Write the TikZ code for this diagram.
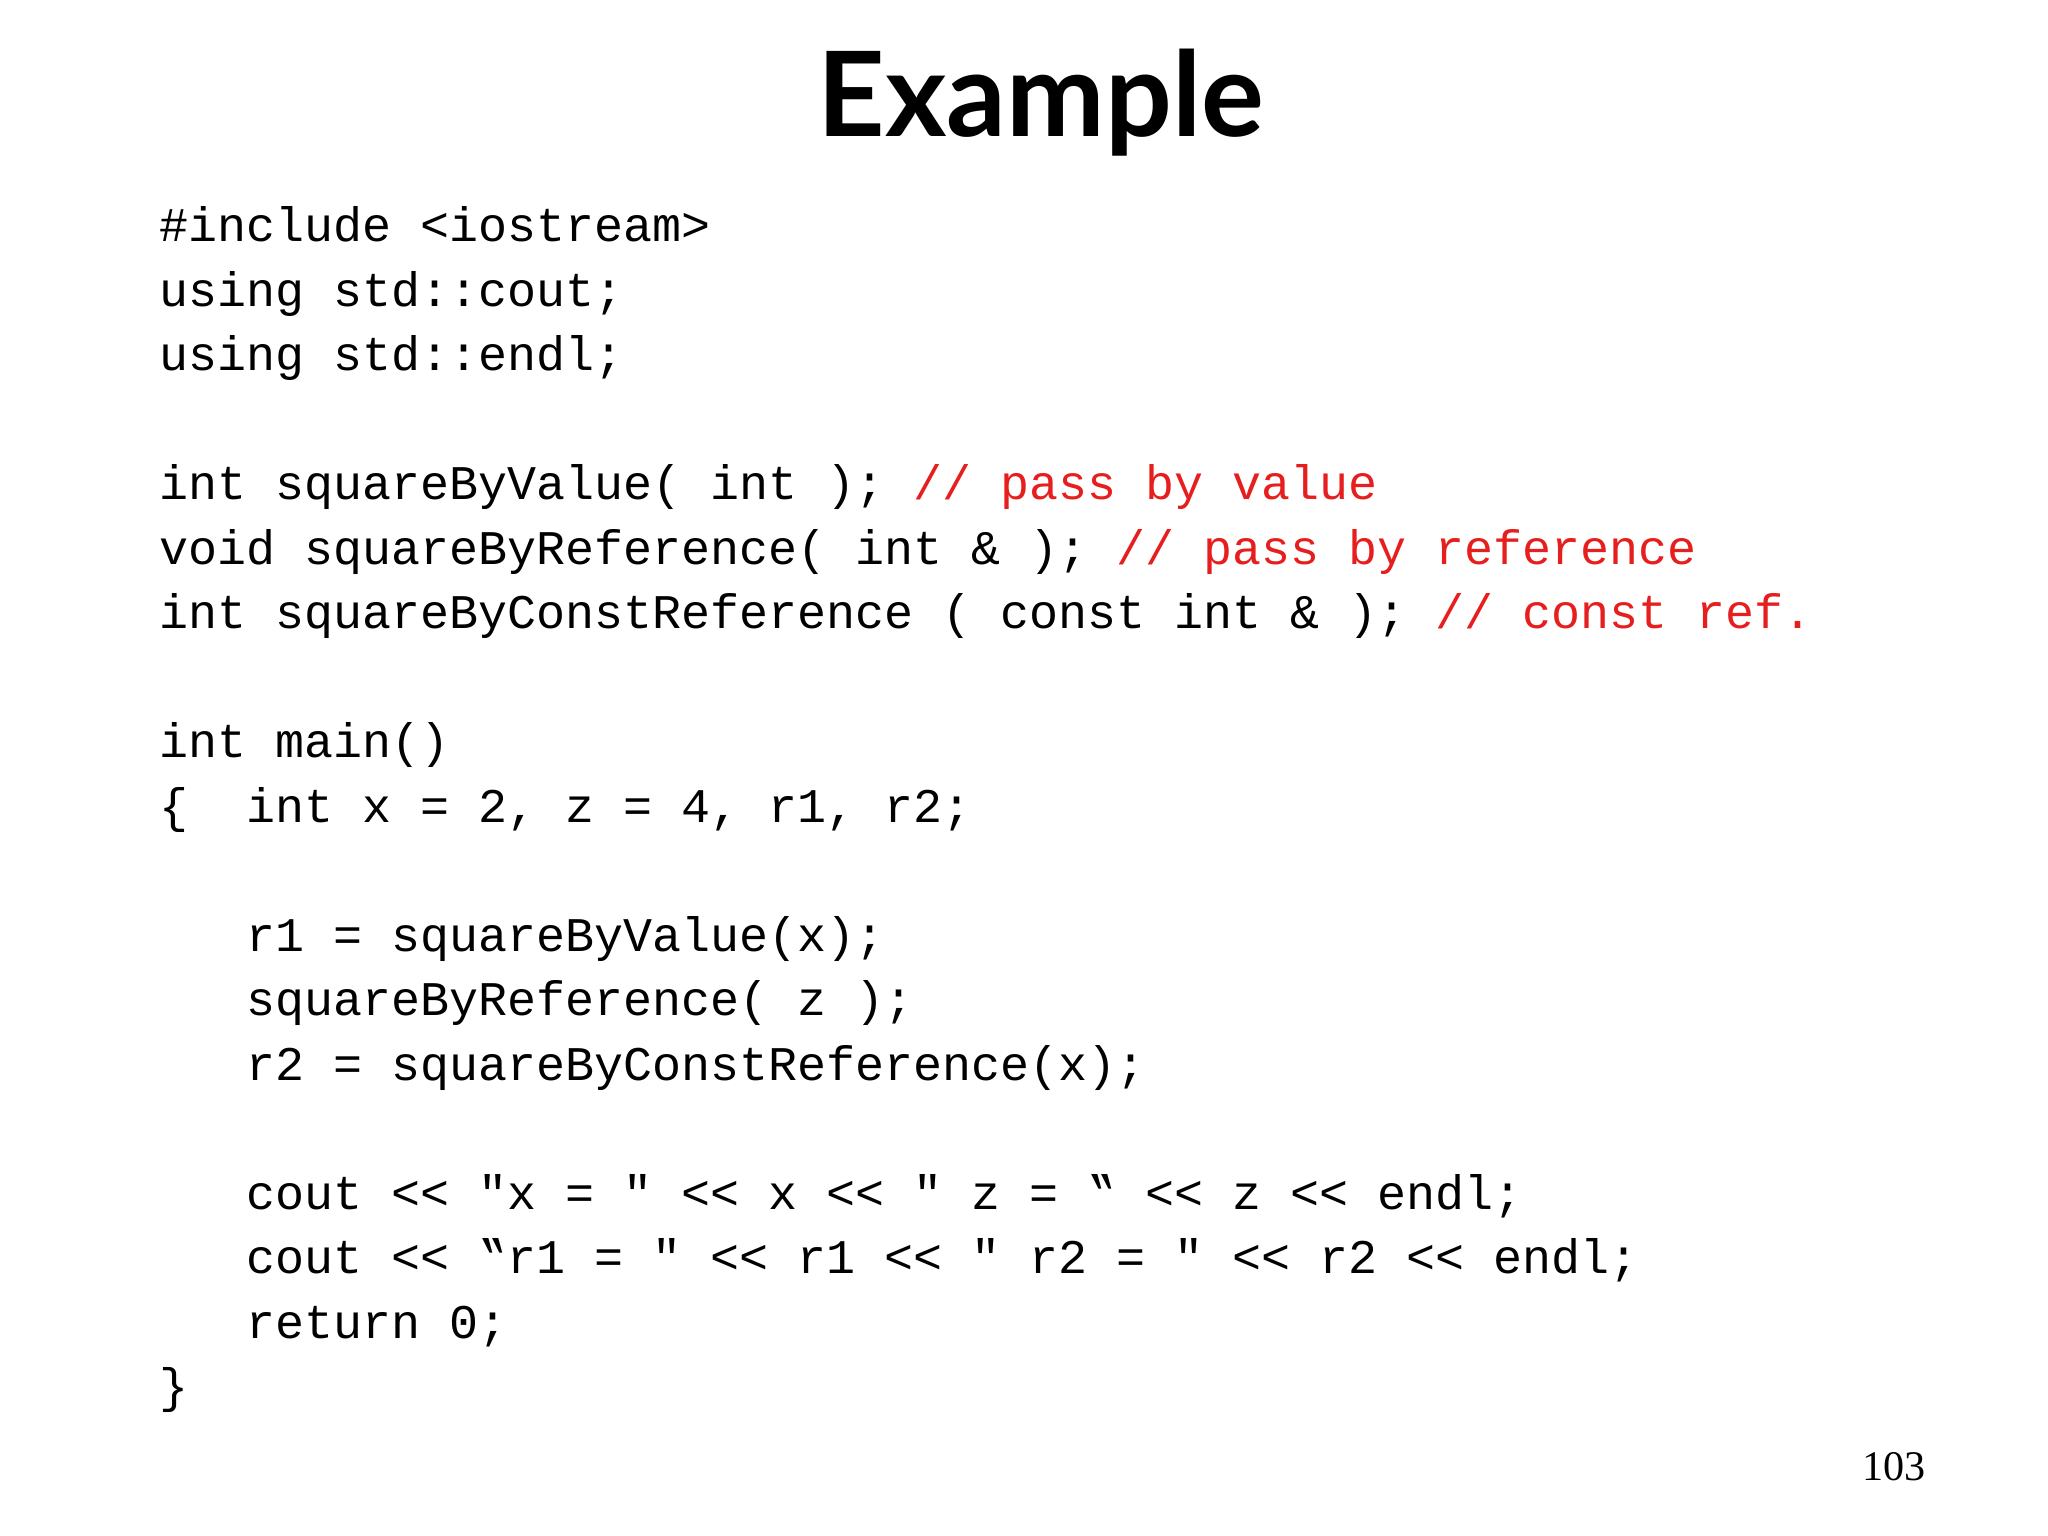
\documentclass[tikz,border=0pt]{standalone}
\usepackage{fontspec}
\setmainfont{Liberation Serif}
\newfontfamily\code{Liberation Mono}
\newfontfamily\titlefont{Lato}
\definecolor{cred}{RGB}{230,30,30}
\tikzset{codeline/.style={anchor=base west,inner sep=0pt,font=\code\fontsize{13.75pt}{16pt}\selectfont}}
\newcommand{\cm}[1]{\textcolor{cred}{#1}}
\newcommand{\shl}{<{}<}
\begin{document}
\begin{tikzpicture}[x=1cm,y=1cm]
\useasboundingbox (0,0) rectangle (20.48,-15.36);
\node[font=\titlefont\bfseries\fontsize{33.5pt}{38pt}\selectfont,inner sep=0pt] (title) at (10.41,-1.03) {Example};
\node[codeline] (l0) at (1.59,-2.416) {\#include <iostream>};
\node[codeline] (l1) at (1.59,-3.061) {using std::cout;};
\node[codeline] (l2) at (1.59,-3.706) {using std::endl;};
\node[codeline] (l4) at (1.59,-4.996) {int squareByValue( int ); \cm{// pass by value}};
\node[codeline] (l5) at (1.59,-5.641) {void squareByReference( int \& ); \cm{// pass by reference}};
\node[codeline] (l6) at (1.59,-6.286) {int squareByConstReference ( const int \& ); \cm{// const ref.}};
\node[codeline] (l8) at (1.59,-7.576) {int main()};
\node[codeline] (l9) at (1.59,-8.221) {\{\ \ int x = 2, z = 4, r1, r2;};
\node[codeline] (l11) at (1.59,-9.511) {\ \ \ r1 = squareByValue(x);};
\node[codeline] (l12) at (1.59,-10.156) {\ \ \ squareByReference( z );};
\node[codeline] (l13) at (1.59,-10.801) {\ \ \ r2 = squareByConstReference(x);};
\node[codeline] (l15) at (1.59,-12.091) {\ \ \ cout \shl{} "x = " \shl{} x \shl{} " z = ‟ \shl{} z \shl{} endl;};
\node[codeline] (l16) at (1.59,-12.736) {\ \ \ cout \shl{} ‟r1 = " \shl{} r1 \shl{} " r2 = " \shl{} r2 \shl{} endl;};
\node[codeline] (l17) at (1.59,-13.381) {\ \ \ return 0;};
\node[codeline] (l18) at (1.59,-14.026) {\}};
\node[font=\fontsize{12pt}{14pt}\selectfont,inner sep=0pt] (pg) at (18.94,-14.67) {103};
\end{tikzpicture}
\end{document}
